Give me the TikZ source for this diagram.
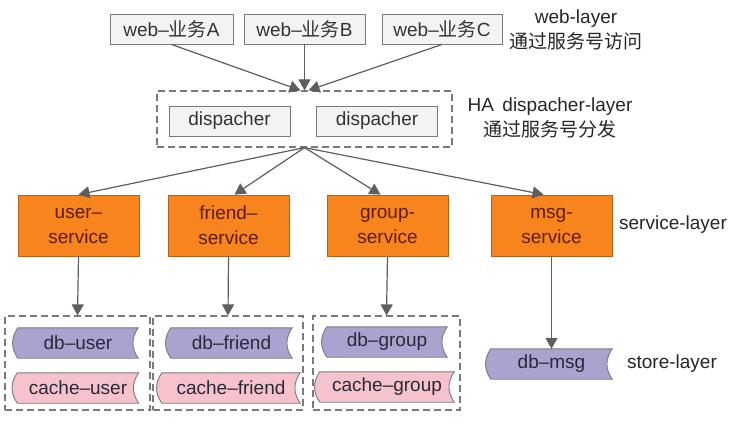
\documentclass[tikz,border=0pt]{standalone}
\usepackage{fontspec}
\setmainfont{Liberation Sans}
\newfontfamily\cjk{Noto Sans CJK SC}
\usetikzlibrary{arrows.meta,backgrounds}

\definecolor{linegray}{HTML}{5E5E5E}
\definecolor{boxgray}{HTML}{7A7A7A}
\definecolor{webfill}{HTML}{F3F3F3}
\definecolor{svcfill}{HTML}{F7841C}
\definecolor{svcdraw}{HTML}{B4621A}
\definecolor{svctext}{HTML}{5C1C0C}
\definecolor{dbfill}{HTML}{ABA3CF}
\definecolor{cachefill}{HTML}{F6C3CD}
\definecolor{storetext}{HTML}{2A2838}

\tikzset{
  web/.style={draw=boxgray, fill=webfill, line width=0.9pt, minimum height=30pt, inner sep=0pt, text=black!80},
  disp/.style={web, minimum width=121pt},
  svc/.style={draw=svcdraw, fill=svcfill, line width=0.8pt, minimum width=121pt, minimum height=61pt, inner sep=0pt, align=center, text=svctext},
  store/.style={minimum height=30pt, inner sep=0pt, text=storetext},
  layer/.style={draw=boxgray, dashed, dash pattern=on 7pt off 4pt, line width=1.2pt},
  lbl/.style={align=center, text=black!85},
  arr/.style={draw=linegray, line width=1.2pt, -{Triangle[length=11pt,width=12pt]}}
}

\begin{document}
\begin{tikzpicture}[x=1pt, y=-1pt, font=\fontsize{19}{25}\selectfont]
    \useasboundingbox (0,0) rectangle (740,425);

    % web layer
    \node[web, minimum width=123pt] (webA) at (171.5,29) {web–{\cjk 业务}A};
    \node[web, minimum width=121pt] (webB) at (304.5,29) {web–{\cjk 业务}B};
    \node[web, minimum width=120pt] (webC) at (442,29) {web–{\cjk 业务}C};
    \node[lbl] (webLayer) at (576,30) {web-layer\\{\cjk 通过服务号访问}};

    % dispacher layer
    \node[layer, minimum width=295pt, minimum height=56pt] (ha) at (304.5,119) {};
    \node[disp] (disp1) at (229.5,121) {dispacher};
    \node[disp] (disp2) at (377,121) {dispacher};
    \node[lbl] (haLayer) at (550,118) {HA\, dispacher-layer\\{\cjk 通过服务号分发}};

    % service layer
    \node[svc] (user) at (78.5,225.5) {user–\\service};
    \node[svc] (friend) at (228.5,225.5) {friend–\\service};
    \node[svc] (group) at (387.5,225.5) {group-\\service};
    \node[svc] (msg) at (551.5,225.5) {msg-\\service};
    \node[lbl] (svcLayer) at (673,225) {service-layer};

    % store layer
    \node[layer, minimum width=145pt, minimum height=94pt] (userStore) at (77.5,363) {};
    \node[layer, minimum width=150pt, minimum height=94pt] (friendStore) at (228,363) {};
    \node[layer, minimum width=147pt, minimum height=94pt] (groupStore) at (386.5,363) {};

    \node[store, minimum width=120pt] (dbUser) at (78,343) {db–user};
    \node[store, minimum width=121pt] (cacheUser) at (78,388) {cache–user};
    \node[store, minimum width=121pt] (dbFriend) at (231.5,343) {db–friend};
    \node[store, minimum width=138pt] (cacheFriend) at (231,388) {cache–friend};
    \node[store, minimum width=120pt] (dbGroup) at (387,342) {db–group};
    \node[store, minimum width=134pt] (cacheGroup) at (387,387) {cache–group};
    \node[store, minimum width=121pt] (dbMsg) at (551.5,364) {db–msg};
    \node[lbl] (storeLayer) at (672,364) {store-layer};

    % stored data outlines
    \begin{scope}[on background layer]
      \foreach \n/\c in {dbUser/dbfill, cacheUser/cachefill, dbFriend/dbfill, cacheFriend/cachefill,
                         dbGroup/dbfill, cacheGroup/cachefill, dbMsg/dbfill}
        \draw[draw=boxgray, fill=\c, line width=0.9pt]
          (\n.north west) -- (\n.north east)
          .. controls +(-7pt,-10pt) and +(-7pt,10pt) .. (\n.south east)
          -- (\n.south west)
          .. controls +(-7pt,10pt) and +(-7pt,-10pt) .. (\n.north west) -- cycle;
    \end{scope}

    % Draw connections
    \draw[arr] (webA.south) -- ([xshift=-4pt]ha.north);
    \draw[arr] (webB.south) -- (ha.north);
    \draw[arr] (webC.south) -- ([xshift=4pt]ha.north);

    \draw[arr] (ha.south) -- (user.north);
    \draw[arr] (ha.south) -- ([xshift=6pt]friend.north);
    \draw[arr] (ha.south) -- ([xshift=-7pt]group.north);
    \draw[arr] (ha.south) -- ([xshift=-8pt]msg.north);

    \draw[arr] (user.south) -- (userStore.north);
    \draw[arr] (friend.south) -- (friendStore.north);
    \draw[arr] (group.south) -- (groupStore.north);
    \draw[arr] (msg.south) -- (dbMsg.north);
\end{tikzpicture}
\end{document}
